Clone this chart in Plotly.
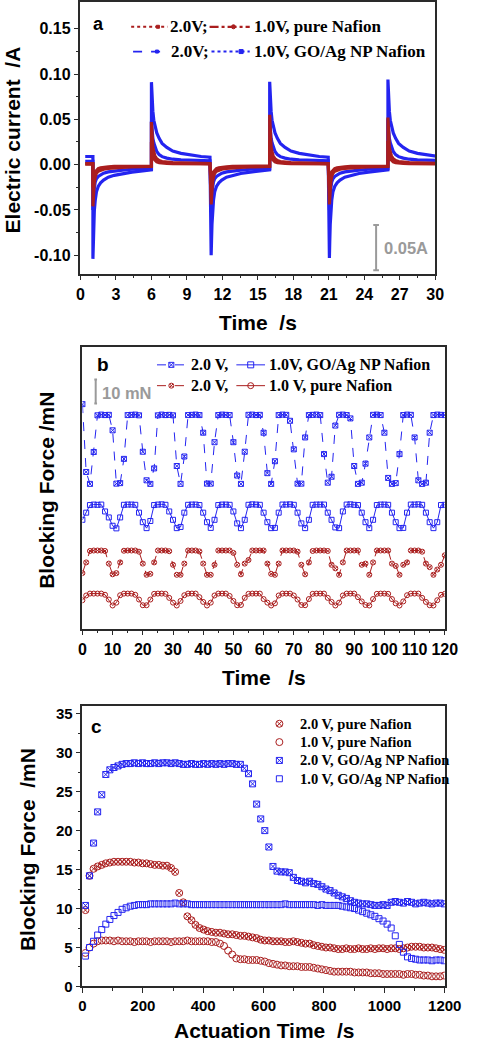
import plotly.graph_objects as go

W, H = 479, 1050
def px(x): return x / W
def py(y): return 1 - y / H

BLUE = '#2424f0'
RED = '#aa1e1e'
GRAY = '#9a9a9a'
AX = '#2a2a2a'

# ---------------- Panel a : electric current ----------------
a_rel_t = [0, 0.03, 0.07, 0.12, 0.2, 0.3, 0.45, 0.65, 0.9, 1.3, 1.8, 2.5, 3.3, 4.2, 4.95]
a_neg_switch = [1.05, 11.05, 21.05]
a_pos_switch = [6.0, 16.0, 26.0]
a_start = 0.4

go2_init = 0.009
go2_pos = [0.091, 0.078, 0.068, 0.059, 0.049, 0.042, 0.035, 0.029, 0.0235, 0.019, 0.015, 0.0125, 0.0105, 0.009, 0.0083]
go2_neg = [-0.104, -0.085, -0.066, -0.051, -0.039, -0.030, -0.024, -0.020, -0.017, -0.0138, -0.0118, -0.0098, -0.0082, -0.0068, -0.0056]
go2_pos_peaks = [0.091, 0.0915, 0.094]
go2_neg_peaks = [-0.104, -0.100, -0.103]

go1_init = 0.0036
go1_pos = [0.048, 0.040, 0.034, 0.029, 0.024, 0.019, 0.0146, 0.011, 0.0088, 0.0072, 0.006, 0.0053, 0.0048, 0.0045, 0.0043]
go1_neg = [-0.050, -0.040, -0.032, -0.026, -0.019, -0.0155, -0.013, -0.011, -0.0095, -0.008, -0.0068, -0.006, -0.0051, -0.0045, -0.0041]
go1_pos_peaks = [0.048, 0.050, 0.050]
go1_neg_peaks = [-0.050, -0.048, -0.050]

pn2_init = 0.0012
pn2_pos = [0.047, 0.036, 0.025, 0.019, 0.014, 0.0095, 0.0065, 0.0045, 0.0035, 0.0028, 0.0023, 0.002, 0.0017, 0.0014, 0.0012]
pn2_neg = [-0.046, -0.036, -0.027, -0.019, -0.013, -0.0095, -0.0072, -0.006, -0.005, -0.0042, -0.0035, -0.003, -0.0026, -0.0022, -0.002]
pn2_pos_peaks = [0.047, 0.055, 0.052]
pn2_neg_peaks = [-0.046, -0.044, -0.044]

pn1_init = 0.0006
pn1_pos = [0.025, 0.018, 0.013, 0.009, 0.0065, 0.0045, 0.003, 0.0022, 0.0017, 0.0013, 0.0011, 0.001, 0.0009, 0.0008, 0.0008]
pn1_neg = [-0.025, -0.019, -0.014, -0.0105, -0.008, -0.006, -0.0045, -0.0035, -0.0028, -0.0023, -0.002, -0.0018, -0.0016, -0.0015, -0.0015]
pn1_pos_peaks = [0.025, 0.027, 0.026]
pn1_neg_peaks = [-0.025, -0.024, -0.024]

# ---------------- Panel b : blocking force vs time ----------------
b_step = 1.25
b_go2 = [34, 5.5, 0.5, 13.9, 29.3, 29.6, 29.4, 29.5,
         23, 0.6, 0.8, 11, 29.4, 29.5, 29.6, 29.3,
         14, 2, 0.5, 7, 29.3, 29.6, 29.4, 29.5,
         29.3, 8, 0.5, 12, 29.4, 29.5, 29.6, 29.4,
         22, 0.6, 0.6, 18, 29.4, 29.6, 29.5, 29.4,
         18, 4, 0.5, 14, 29.5, 29.6, 29.4, 29.5,
         22, 5, 0.5, 10, 29.4, 29.6, 29.5, 27,
         15, 0.6, 0.6, 20, 29.4, 29.5, 29.6, 29.4,
         13, 1, 3.5, 25, 29.5, 29.6, 29.4, 28,
         8, 0.5, 1.0, 9, 20, 29.5, 29.6, 29.4,
         22, 3, 0.5, 0.8, 13, 29.4, 29.6, 29.5,
         20, 2, 0.5, 1.0, 22, 29.4, 29.6, 29.5,
         29.4]
b_go1 = [4.0, 7, 10.2, 10.4, 10.3, 10.4, 7.5, 5,
         1.5, 0.4, 5, 10.3, 10.4, 10.4, 10.3, 7,
         3, 0.5, 3.5, 10.2, 10.4, 10.5, 10.3, 7.5,
         4, 0.5, 1, 7, 10.3, 10.4, 10.4, 10.2,
         7, 3, 0.6, 4, 10.2, 10.4, 10.4, 10.3,
         7.5, 2.5, 0.5, 4, 10.3, 10.5, 10.4, 10.3,
         7, 3, 0.5, 0.6, 7, 10.4, 10.4, 10.5,
         10.3, 7, 2.5, 0.5, 4, 10.3, 10.4, 10.4,
         10.4, 7, 4, 0.8, 0.5, 7.5, 10.4, 10.5,
         10.3, 10.2, 7, 3, 0.5, 4, 10.2, 10.4,
         10.4, 10.3, 7, 3, 0.5, 0.6, 7, 10.4,
         10.4, 10.5, 10.3, 7, 3, 0.5, 3, 10.2,
         10.3]
b_pn2 = [1.5, 6, 10.8, 11, 11, 11, 10.8, 5.5,
         1, 1.5, 6, 10.9, 11, 11, 11, 10.5,
         5.5, 0.8, 1.2, 6, 11, 11, 11, 10.7,
         5, 0.8, 0.8, 5.5, 11, 11, 11, 10.6,
         5.5, 0.8, 0.8, 5, 11, 11, 11, 11,
         10, 5, 1, 5.5, 7, 11, 11, 11,
         11, 5.5, 1.2, 0.8, 5.5, 11, 11, 11,
         11, 10.5, 5, 1, 6, 10.8, 11, 11,
         11, 10.8, 5, 3.5, 0.8, 6, 11, 11,
         11, 11, 5, 5.5, 0.8, 6, 11, 11,
         11, 11, 5.5, 4.5, 0.8, 5, 6, 11,
         11, 11, 10.5, 5.5, 4, 0.8, 3, 5,
         9]
b_pn1 = [2.5, 4.5, 5.3, 5.3, 5.3, 5.3, 4.8, 2.8,
         0.3, 1.5, 4.6, 5.3, 5.3, 5.3, 4.8, 2.8,
         0.4, 0.4, 2.8, 5.2, 5.3, 5.3, 5.2, 3.5,
         1.5, 0.3, 2.2, 4.6, 5.3, 5.3, 5.3, 3.8,
         1.8, 0.3, 1.5, 4.5, 5.3, 5.3, 5.3, 4.3,
         2.2, 0.4, 0.5, 3.5, 5.2, 5.3, 5.3, 5.3,
         3, 1.5, 0.3, 1.2, 4.5, 5.3, 5.3, 5.3,
         4.5, 2.8, 0.5, 0.4, 3, 5.2, 5.3, 5.3,
         5.3, 3.5, 1.8, 0.3, 1.5, 4.5, 5.3, 5.3,
         5.3, 3.8, 2, 0.5, 0.3, 3, 5.2, 5.3,
         5.3, 5.2, 3, 1.2, 0.3, 2, 4.6, 5.3,
         5.3, 5.3, 3.5, 1.8, 0.4, 0.3, 2.5, 4.8,
         5.2]
# vertical stacking offsets (mN) used only for display
b_off = {'go2': 60.3, 'go1': 41.7, 'pn2': 21.8, 'pn1': 9.4}

# ---------------- Panel c : blocking force vs actuation time ----------------
c_t0, c_step = 10.0, 13.5
c_pn2 = [9.8, 14.2,
         15.1, 15.4, 15.6, 15.8, 15.9, 16.0, 16.0, 16.0, 16.0, 16.0, 15.9, 15.9, 15.8, 15.8, 15.7, 15.6, 15.6, 15.5, 15.5, 15.2, 14.7,
         12.0, 10.8, 9.0, 8.5, 7.9, 7.5, 7.3,
         7.1, 7.0, 6.9, 6.9, 6.8, 6.7, 6.7, 6.6, 6.5, 6.5, 6.4, 6.3, 6.2, 6.0, 5.9, 5.9, 5.8, 5.8, 5.8, 5.7,
         5.7, 5.8, 5.7, 5.6, 5.5, 5.5, 5.3, 5.2, 5.1, 5.0, 5.0, 4.9, 4.8, 4.8, 4.9, 4.8, 4.8, 4.9, 4.8, 4.8,
         4.9, 4.8, 4.9, 4.9, 4.8, 4.9, 4.9, 4.8, 4.9, 5.0, 5.1, 5.1, 5.1, 5.0, 5.0, 5.0, 4.9, 4.8, 4.7]
c_pn1 = [4.3, 5.0, 5.5, 5.8, 5.9, 5.9, 5.9, 5.8, 5.9, 5.8,
         5.8, 5.8, 5.7, 5.8, 5.8, 5.8, 5.7, 5.8, 5.8, 5.8, 5.8, 5.7, 5.8, 5.8, 5.8, 5.9, 5.8, 5.8, 5.8,
         5.8, 5.8, 5.7, 5.7, 5.5, 5.2, 4.6, 4.1, 3.6, 3.5,
         3.5, 3.4, 3.4, 3.4, 3.3, 3.2, 3.0, 2.9, 2.8, 2.7,
         2.7, 2.6, 2.6, 2.6, 2.5, 2.5, 2.5, 2.4, 2.3, 2.2,
         2.1, 2.0, 1.9, 1.9, 1.9, 1.9, 1.9, 1.8, 1.8, 1.8,
         1.8, 1.7, 1.7, 1.7, 1.6, 1.6, 1.6, 1.6, 1.6, 1.5,
         1.6, 1.6, 1.5, 1.5, 1.4, 1.4, 1.3, 1.3, 1.3, 1.4]
c_go2 = [10.4, 14.2, 18.4, 22.4, 24.6, 27.2, 27.8, 28.1, 28.3,
         28.5, 28.6, 28.6, 28.7, 28.6, 28.7, 28.6, 28.6, 28.7, 28.6, 28.7, 28.7, 28.6, 28.7, 28.6,
         28.5, 28.5, 28.6, 28.5, 28.5, 28.6, 28.5, 28.6, 28.5, 28.6, 28.5, 28.6, 28.6, 28.5, 28.5,
         28.0, 27.3, 26.0, 23.4, 21.5, 20.0, 17.9, 15.4,
         14.8, 14.7, 14.7, 14.6,
         14.0, 13.6, 13.5, 13.3, 13.5, 13.2, 13.1, 12.8, 12.5, 12.3, 12.0, 11.7, 11.5, 11.3, 11.0,
         10.8, 10.7, 10.6, 10.6, 10.5, 10.4, 10.4, 10.5, 10.4, 10.8, 10.9, 10.8, 10.7, 10.9, 10.8,
         10.6, 10.7, 10.8, 10.7, 10.6, 10.7, 10.7, 10.6]
c_go1 = [3.9, 5.0, 5.8, 6.6, 7.3, 8.0, 8.6, 9.1, 9.5, 9.9, 10.1, 10.3, 10.4, 10.5,
         10.5, 10.5, 10.6, 10.6, 10.6, 10.6, 10.6, 10.6, 10.7, 10.6,
         10.6, 10.6, 10.5, 10.5, 10.5, 10.5, 10.5, 10.5, 10.5, 10.5,
         10.5, 10.5, 10.5, 10.5, 10.5, 10.5, 10.5, 10.5, 10.5, 10.5,
         10.5, 10.5, 10.5, 10.5, 10.5, 10.6, 10.5, 10.5, 10.5, 10.5,
         10.5, 10.5, 10.5, 10.4, 10.5, 10.4, 10.4,
         10.4, 10.4, 10.3, 10.2, 10.1, 10.0, 9.8, 9.6, 9.4, 9.2, 9.0, 8.7, 8.4, 8.0,
         7.5, 6.5, 5.4, 4.4, 3.8, 3.6, 3.5, 3.4, 3.4, 3.4, 3.3, 3.4, 3.4, 3.3]

# ---------------- build figure ----------------
fig = go.Figure()

def build_a(init, neg_prof, pos_prof, neg_peaks, pos_peaks):
    xs = [a_start, a_neg_switch[0]]
    ys = [init, init]
    for k in range(3):
        for sw, prof, pk in ((a_neg_switch[k], neg_prof, neg_peaks[k]),
                             (a_pos_switch[k], pos_prof, pos_peaks[k])):
            for j, r in enumerate(a_rel_t):
                xs.append(sw + r)
                ys.append(pk if j == 0 else prof[j])
    return xs, ys

for init, npf, ppf, npk, ppk, col in [
        (go2_init, go2_neg, go2_pos, go2_neg_peaks, go2_pos_peaks, BLUE),
        (go1_init, go1_neg, go1_pos, go1_neg_peaks, go1_pos_peaks, BLUE),
        (pn2_init, pn2_neg, pn2_pos, pn2_neg_peaks, pn2_pos_peaks, RED),
        (pn1_init, pn1_neg, pn1_pos, pn1_neg_peaks, pn1_pos_peaks, RED)]:
    xs, ys = build_a(init, npf, ppf, npk, ppk)
    fig.add_trace(go.Scatter(x=xs, y=ys, mode='lines', xaxis='x', yaxis='y',
                             line=dict(color=col, width=3.2), showlegend=False))

t_b = [b_step * i for i in range(len(b_go2))]
for vals, key, col, sym, dash in [
        (b_go2, 'go2', BLUE, 'square-x-open', 'dash'),
        (b_go1, 'go1', BLUE, 'square-open', 'solid'),
        (b_pn2, 'pn2', RED, 'circle-x-open', 'dash'),
        (b_pn1, 'pn1', RED, 'circle-open', 'solid')]:
    fig.add_trace(go.Scatter(x=t_b, y=[v + b_off[key] for v in vals], mode='lines+markers',
                             xaxis='x2', yaxis='y2',
                             line=dict(color=col, width=1, dash=dash),
                             marker=dict(symbol=sym, size=5, color=col, line=dict(width=1, color=col)),
                             showlegend=False))

t_c = [c_t0 + c_step * i for i in range(len(c_go2))]
for vals, col, sym, size in [
        (c_pn2, RED, 'circle-x-open', 7),
        (c_pn1, RED, 'circle-open', 7),
        (c_go1, BLUE, 'square-open', 6),
        (c_go2, BLUE, 'square-x-open', 6)]:
    fig.add_trace(go.Scatter(x=t_c, y=vals, mode='markers', xaxis='x3', yaxis='y3',
                             marker=dict(symbol=sym, size=size, color=col, line=dict(width=1, color=col)),
                             showlegend=False))

# legend samples on a pixel-coordinate overlay axis
def leg_line(x0, x1, y, col, dash, width=1.5, sym=None, mx=None, ms=5):
    fig.add_trace(go.Scatter(x=[x0, x1], y=[y, y], mode='lines', xaxis='x4', yaxis='y4',
                             line=dict(color=col, width=width, dash=dash), showlegend=False,
                             hoverinfo='skip'))
    if sym is not None:
        fig.add_trace(go.Scatter(x=[mx], y=[y], mode='markers', xaxis='x4', yaxis='y4',
                                 marker=dict(symbol=sym, size=ms, color=col, line=dict(width=1, color=col)),
                                 showlegend=False, hoverinfo='skip'))

# panel a legend
leg_line(133, 171, 26, RED, 'dot', 2, 'square', 161, 3)
leg_line(215, 257, 26, RED, 'dashdot', 2.2, 'circle', 240, 4)
leg_line(135, 172, 51, BLUE, 'dash', 1.8, 'square', 160, 3)
leg_line(217, 257, 51, BLUE, 'dot', 2, 'square', 248, 4)
# panel b legend
leg_line(160, 190, 367, BLUE, 'dash', 1, 'square-x-open', 175, 5)
leg_line(243, 273, 367, BLUE, 'solid', 1, 'square-open', 258, 6)
leg_line(160, 190, 388, RED, 'dash', 1, 'circle-x-open', 175, 5)
leg_line(243, 273, 388, RED, 'solid', 1, 'circle-open', 258, 6)
# panel c legend markers
for yy, col, sym, ms in [(729, RED, 'circle-x-open', 7), (747.5, RED, 'circle-open', 7),
                         (766, BLUE, 'square-x-open', 6), (784.5, BLUE, 'square-open', 6)]:
    fig.add_trace(go.Scatter(x=[288], y=[yy], mode='markers', xaxis='x4', yaxis='y4',
                             marker=dict(symbol=sym, size=ms, color=col, line=dict(width=1, color=col)),
                             showlegend=False, hoverinfo='skip'))

tickfont = dict(family='Liberation Sans', size=16, color='black', weight='bold')
tickfont_c = dict(family='Liberation Sans', size=15, color='black', weight='bold')
common = dict(showline=True, linecolor=AX, linewidth=1.5, mirror=True, showgrid=False,
              zeroline=False, ticks='outside', ticklen=5, tickwidth=1.3, tickcolor=AX)

fig.update_layout(
    width=W, height=H, margin=dict(l=0, r=0, t=0, b=0),
    paper_bgcolor='white', plot_bgcolor='rgba(0,0,0,0)', showlegend=False,
    xaxis=dict(domain=[px(80), px(451)], anchor='y', range=[0, 30],
               tickmode='array', tickvals=[0, 3, 6, 9, 12, 15, 18, 21, 24, 27, 30],
               minor=dict(tickmode='array', tickvals=[1.5, 4.5, 7.5, 10.5, 13.5, 16.5, 19.5, 22.5, 25.5, 28.5],
                          ticks='outside', ticklen=3, tickcolor=AX),
               tickfont=tickfont, **common),
    yaxis=dict(domain=[py(275), py(1)], anchor='x', range=[-0.1203, 0.1795],
               tickmode='array', tickvals=[-0.10, -0.05, 0.0, 0.05, 0.10, 0.15],
               ticktext=['-0.10', '-0.05', '0.00', '0.05', '0.10', '0.15'],
               minor=dict(tickmode='array', tickvals=[-0.075, -0.025, 0.025, 0.075, 0.125],
                          ticks='outside', ticklen=3, tickcolor=AX),
               tickfont=tickfont, **common),
    xaxis2=dict(domain=[px(82), px(461)], anchor='y2', range=[0, 120],
                tickmode='array', tickvals=list(range(0, 121, 10)),
                minor=dict(tickmode='array', tickvals=list(range(5, 120, 10)),
                           ticks='outside', ticklen=3, tickcolor=AX),
                tickfont=tickfont, **common),
    yaxis2=dict(domain=[py(633), py(349)], anchor='x2', range=[0, 118.3],
                showline=True, linecolor=AX, linewidth=1.5, mirror=True, showgrid=False,
                zeroline=False, ticks='', showticklabels=False),
    xaxis3=dict(domain=[px(82), px(461)], anchor='y3', range=[0, 1200],
                tickmode='array', tickvals=list(range(0, 1201, 200)),
                minor=dict(tickmode='array', tickvals=list(range(100, 1200, 200)),
                           ticks='outside', ticklen=3, tickcolor=AX),
                tickfont=tickfont_c, **common),
    yaxis3=dict(domain=[py(994), py(711)], anchor='x3', range=[0, 36],
                tickmode='array', tickvals=[0, 5, 10, 15, 20, 25, 30, 35],
                minor=dict(tickmode='array', tickvals=[2.5, 7.5, 12.5, 17.5, 22.5, 27.5, 32.5],
                           ticks='outside', ticklen=3, tickcolor=AX),
                tickfont=tickfont_c, **common),
    xaxis4=dict(domain=[0, 1], anchor='y4', range=[0, W], visible=False, fixedrange=True),
    yaxis4=dict(domain=[0, 1], anchor='x4', range=[H, 0], visible=False, fixedrange=True),
)

# scale bars
fig.add_shape(type='line', xref='x', yref='y', x0=25.0, x1=25.0, y0=-0.1166, y1=-0.0666,
              line=dict(color=GRAY, width=2))
for yy in (-0.1166, -0.0666):
    fig.add_shape(type='line', xref='x', yref='y', x0=24.76, x1=25.24, y0=yy, y1=yy,
                  line=dict(color=GRAY, width=2))
fig.add_shape(type='line', xref='x2', yref='y2', x0=4.4, x1=4.4, y0=94.6, y1=104.6,
              line=dict(color=GRAY, width=2))
for yy in (94.6, 104.6):
    fig.add_shape(type='line', xref='x2', yref='y2', x0=3.95, x1=4.85, y0=yy, y1=yy,
                  line=dict(color=GRAY, width=2))

def ann(text, x, y, size, family='Liberation Sans', color='black', xanchor='center',
        yanchor='middle', angle=0):
    fig.add_annotation(text=text, x=px(x), y=py(y), xref='paper', yref='paper',
                       showarrow=False, xanchor=xanchor, yanchor=yanchor, textangle=angle,
                       font=dict(family=family, size=size, color=color))

# axis titles
ann('<b>Electric current  /A</b>', 9, 140, 21, angle=-90)
ann('<b>Time  /s</b>', 266, 324, 21)
ann('<b>Blocking Force /mN</b>', 45, 494, 21, angle=-90)
ann('<b>Time   /s</b>', 272, 682, 21)
ann('<b>Blocking Force  /mN</b>', 24.5, 856, 21, angle=-90)
ann('<b>Actuation Time  /s</b>', 272, 1038, 21)

# panel letters
ann('<b>a</b>', 99, 23, 18)
ann('<b>b</b>', 104, 367, 19)
ann('<b>c</b>', 97, 732, 19)

# scale labels
ann('<b>0.05A</b>', 395, 249, 16.5, color=GRAY, xanchor='left')
ann('<b>10 mN</b>', 100, 395, 16.5, color=GRAY, xanchor='left')

# legend texts
SER = 'Liberation Serif'
ann('<b>2.0V;</b>', 172, 26, 17, SER, xanchor='left')
ann('<b>1.0V, pure Nafion</b>', 259, 26, 17, SER, xanchor='left')
ann('<b>2.0V;</b>', 173, 51, 17, SER, xanchor='left')
ann('<b>1.0V, GO/Ag NP Nafion</b>', 259, 51, 17, SER, xanchor='left')

ann('<b>2.0 V,</b>', 193, 367, 16, SER, xanchor='left')
ann('<b>1.0V, GO/Ag NP Nafion</b>', 275, 367, 16, SER, xanchor='left')
ann('<b>2.0 V,</b>', 193, 388, 16, SER, xanchor='left')
ann('<b>1.0 V, pure Nafion</b>', 275, 388, 16, SER, xanchor='left')

ann('<b>2.0 V, pure Nafion</b>', 307, 729, 14.5, SER, xanchor='left')
ann('<b>1.0 V, pure Nafion</b>', 307, 747.5, 14.5, SER, xanchor='left')
ann('<b>2.0 V, GO/Ag NP Nafion</b>', 307, 766, 14.5, SER, xanchor='left')
ann('<b>1.0 V, GO/Ag NP Nafion</b>', 307, 784.5, 14.5, SER, xanchor='left')

# remove the browser's default page margin so the figure sits at the window origin
fig.write_html('out.html', config={'displayModeBar': False},
               post_script="document.body.style.margin='0';")
